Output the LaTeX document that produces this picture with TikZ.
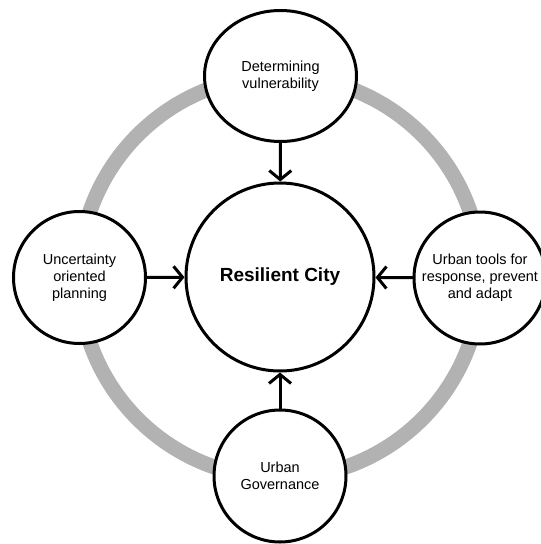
\documentclass[tikz,border=0pt]{standalone}
\usepackage{fontspec}
\setmainfont{Liberation Sans}
\usepackage{tikz}
\usetikzlibrary{shapes}
\usetikzlibrary{arrows.meta}

\begin{document}
\begin{tikzpicture}[x=1pt, y=-1pt,
		hub/.style={draw, circle, line width=3pt, align=center, inner sep=0pt, minimum size=188pt, font=\fontsize{19}{22}\selectfont\bfseries},
		part/.style={draw, circle, fill=white, line width=3pt, align=center, inner sep=0pt, minimum size=132pt, font=\fontsize{14.5}{17}\selectfont},
		feed/.style={draw, line width=3pt, line cap=round, -{Straight Barb[length=9pt, width=22pt]}}]
			\clip (0,0) rectangle (541,544);

			\node[hub] (0) at (280,277) {Resilient City};

			% grey ring behind the outer circles
			\draw[black!30, line width=15pt] (0.center) circle[radius=201pt];

			\node[part, ellipse, minimum width=152pt, minimum height=131pt] (1) at (280.5,76) {Determining\\vulnerability};
			\node[part] (2) at (79.5,277.5) {Uncertainty\\oriented\\planning};
			\node[part] (3) at (480,278) {Urban tools for\\response, prevent\\and adapt};
			\node[part] (4) at (280,476) {Urban\\Governance};

			\path[feed] (1) -- (0);
			\path[feed] (2) -- (0);
			\path[feed] (3) -- (0);
			\path[feed] (4) -- (0);
        \end{tikzpicture}
\end{document}
